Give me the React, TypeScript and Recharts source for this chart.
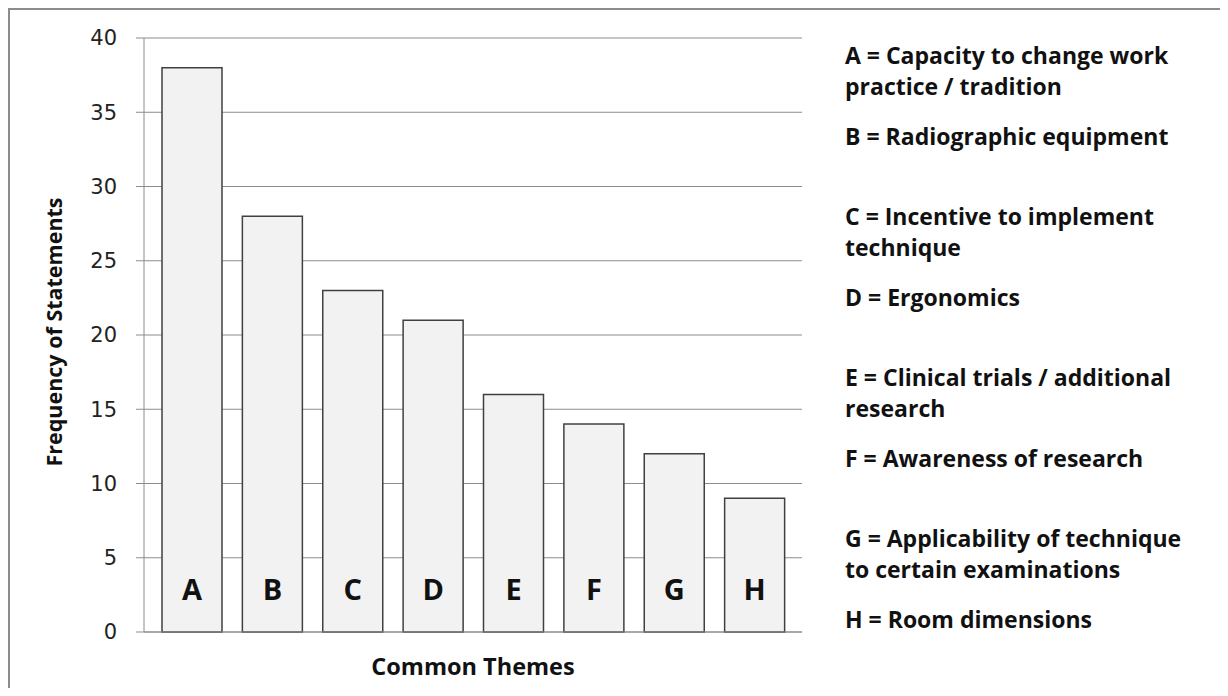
import { BarChart, Bar, XAxis, YAxis, CartesianGrid, LabelList } from 'recharts'

const themes = ['A', 'B', 'C', 'D', 'E', 'F', 'G', 'H']
const frequency = [38, 28, 23, 21, 16, 14, 12, 9]
const yTicks = [0, 5, 10, 15, 20, 25, 30, 35, 40]

// key text, two entries per block
const keyGroups = [
  ['A = Capacity to change work\npractice / tradition', 'B = Radiographic equipment'],
  ['C = Incentive to implement\ntechnique', 'D = Ergonomics'],
  ['E = Clinical trials / additional\nresearch', 'F = Awareness of research'],
  ['G = Applicability of technique\nto certain examinations', 'H = Room dimensions'],
]

const data = themes.map((t, i) => ({ theme: t, value: frequency[i] }))

const boldFont = '"Open Sans", Lato, sans-serif'
const gridColor = '#8c8c8c'

function BarLetter(props: any) {
  const { x, y, width, height, value } = props
  return (
    <text
      x={x + width / 2}
      y={y + height - 32}
      textAnchor="middle"
      fontFamily={boldFont}
      fontWeight={700}
      fontSize={29}
      fill="#111"
    >
      {value}
    </text>
  )
}

function YTitle(props: any) {
  const { viewBox } = props
  const cy = viewBox.y + viewBox.height / 2 - 3
  return (
    <text
      x={43}
      y={cy}
      transform={`rotate(-90, 43, ${cy})`}
      textAnchor="middle"
      dominantBaseline="central"
      fontFamily={boldFont}
      fontWeight={700}
      fontSize={21.5}
      fill="#111"
    >
      Frequency of Statements
    </text>
  )
}

export default function App() {
  return (
    <div
      style={{
        position: 'relative',
        width: 1210,
        height: 678,
        borderTop: '2px solid #8c8c8c',
        borderLeft: '2px solid #8c8c8c',
        background: '#fff',
      }}
    >
      <BarChart
        width={1210}
        height={678}
        data={data}
        margin={{ top: 28, right: 418, left: 0, bottom: 36 }}
      >
        <CartesianGrid horizontal vertical={false} stroke={gridColor} strokeWidth={1} />
        <XAxis
          dataKey="theme"
          height={20}
          tick={false}
          tickLine={false}
          axisLine={{ stroke: gridColor }}
          padding={{ left: 8, right: 7 }}
        />
        <YAxis
          width={134}
          domain={[0, 40]}
          ticks={yTicks}
          interval={0}
          tickSize={8}
          tickMargin={19}
          tickLine={{ stroke: gridColor }}
          axisLine={{ stroke: gridColor }}
          tick={{ fontFamily: '"DejaVu Sans", Verdana, sans-serif', fontSize: 21, fill: '#222' }}
          label={<YTitle />}
        />
        <Bar
          dataKey="value"
          barSize={60}
          fill="#f2f2f2"
          stroke="#404040"
          strokeWidth={1.5}
          isAnimationActive={false}
        >
          <LabelList dataKey="theme" content={<BarLetter />} />
        </Bar>
      </BarChart>

      <div
        style={{
          position: 'absolute',
          left: 463,
          top: 645,
          width: 0,
          display: 'flex',
          justifyContent: 'center',
          fontFamily: boldFont,
          fontWeight: 700,
          fontSize: 23.5,
          lineHeight: '23px',
          color: '#111',
          whiteSpace: 'nowrap',
        }}
      >
        Common Themes
      </div>

      <div
        style={{
          position: 'absolute',
          left: 835,
          top: 30,
          fontFamily: boldFont,
          fontWeight: 700,
          fontSize: 23,
          lineHeight: '31px',
          color: '#111',
        }}
      >
        {keyGroups.map((g, gi) => (
          <div key={gi} style={{ height: 161 }}>
            {g.map((line, li) => (
              <div key={li} style={{ whiteSpace: 'pre-line', marginTop: li === 0 ? 0 : 19 }}>
                {line}
              </div>
            ))}
          </div>
        ))}
      </div>
    </div>
  )
}
